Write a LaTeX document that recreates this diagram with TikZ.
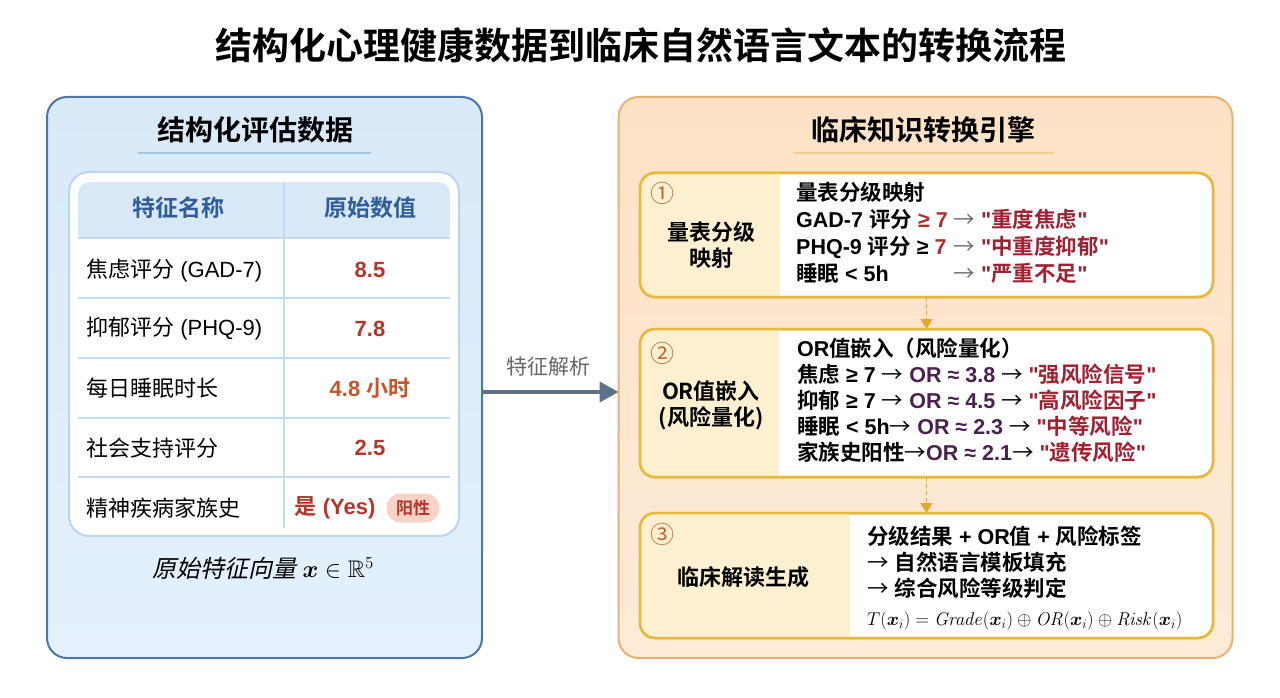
\RequirePackage{fix-cm}
\documentclass[tikz,border=0pt]{standalone}
\usepackage{amsmath,amssymb}
\usepackage[no-math]{fontspec}
\setmainfont{Liberation Sans}[Ligatures=TeXOff]
\newfontfamily\zhfont{Noto Sans CJK SC}[BoldFont={Noto Sans CJK SC Bold}]
\newfontfamily\zhitfont{Noto Sans CJK SC}[FakeSlant=0.22]
\newcommand\zh[1]{{\zhfont #1}}
\newcommand\ra{{\zhfont\mdseries →}}
\usetikzlibrary{arrows.meta,calc}
\definecolor{lptop}{HTML}{D8E9F8}
\definecolor{lpbot}{HTML}{E4F1FC}
\definecolor{lpborder}{HTML}{4A78A8}
\definecolor{hdrfill}{HTML}{D8E8F6}
\definecolor{hdrtext}{HTML}{2F5E99}
\definecolor{gridc}{HTML}{C3DBF0}
\definecolor{cardb}{HTML}{BCD6EE}
\definecolor{lline}{HTML}{A7C6E6}
\definecolor{valred}{HTML}{B4352A}
\definecolor{valorange}{HTML}{C4562A}
\definecolor{pillfill}{HTML}{F6D3C6}
\definecolor{rptop}{HTML}{FDE2C6}
\definecolor{rpbot}{HTML}{FDEBD8}
\definecolor{rpborder}{HTML}{EAB272}
\definecolor{rline}{HTML}{F3CF86}
\definecolor{boxb}{HTML}{E8B83C}
\definecolor{boxl}{HTML}{FDF0D0}
\definecolor{numc}{HTML}{C8652B}
\definecolor{redq}{HTML}{9E2232}
\definecolor{redv}{HTML}{B22A2A}
\definecolor{purp}{HTML}{4B2150}
\definecolor{arrgray}{HTML}{707070}
\definecolor{arrowc}{HTML}{5E7287}
\definecolor{labgray}{HTML}{666666}
\definecolor{dashc}{HTML}{E2A92E}
\begin{document}
\begin{tikzpicture}[x=1pt,y=-1pt,
  panel/.style={rounded corners=20pt, line width=2pt, inner sep=0pt, outer sep=0pt, minimum width=#1},
  stage/.style={draw=boxb, line width=2.5pt, fill=white, rounded corners=15pt, inner sep=0pt, outer sep=0pt, minimum width=573pt},
  ptitle/.style={font=\fontsize{28}{32}\selectfont\bfseries\zhfont},
  rowtext/.style={anchor=west, inner sep=0pt, font=\fontsize{22}{26}\selectfont},
  rowval/.style={inner sep=0pt, text=valred, font=\fontsize{22}{26}\selectfont\bfseries},
  num/.style={text=numc, inner sep=0pt, font=\fontsize{24}{26}\selectfont\zhfont},
  slabel/.style={align=center, inner sep=0pt, font=\fontsize{22}{26}\selectfont\bfseries\zhfont},
  stext/.style={anchor=west, inner sep=0pt},
  dasharr/.style={draw=dashc, line width=1.6pt, dash pattern=on 4pt off 3pt, -{Triangle[length=10pt,width=12pt]}, fill=dashc},
]
\useasboundingbox (0,0) rectangle (1280,698);
\fill[white] (0,0) rectangle (1280,698);

% title
\node[font=\fontsize{37}{44}\selectfont\bfseries\zhfont, inner sep=0pt] (title) at (641,45) {结构化心理健康数据到临床自然语言文本的转换流程};

% ---------- left panel ----------
\node[panel=435pt, minimum height=561pt, draw=lpborder, top color=lptop, bottom color=lpbot] (lp) at (264.5,377.5) {};
\node[ptitle] (lt) at (255,130) {结构化评估数据};
\draw[lline, line width=1.5pt] (138,153) -- (371,153);

\node[draw=cardb, line width=2pt, fill=white, rounded corners=20pt, inner sep=0pt, minimum width=390pt, minimum height=364pt] (card) at (264,354) {};
\fill[hdrfill, rounded corners=12pt] (78,182) rectangle (450,238);
\fill[hdrfill] (78,215) rectangle (450,238);
\draw[gridc, line width=1.2pt] (284,182) -- (284,528);
\foreach \yy in {238,298,358,418,477} \draw[gridc, line width=1.2pt] (78,\yy) -- (450,\yy);

\node[text=hdrtext, inner sep=0pt, font=\fontsize{23}{26}\selectfont\bfseries\zhfont] (h1) at (178,208) {特征名称};
\node[text=hdrtext, inner sep=0pt, font=\fontsize{23}{26}\selectfont\bfseries\zhfont] (h2) at (370,208) {原始数值};

\node[rowtext] (r1) at (86,270) {\zh{焦虑评分} (GAD-7)};
\node[rowtext] (r2) at (86,329) {\zh{抑郁评分} (PHQ-9)};
\node[rowtext] (r3) at (86,388) {\zh{每日睡眠时长}};
\node[rowtext] (r4) at (86,448) {\zh{社会支持评分}};
\node[rowtext] (r5) at (86,508) {\zh{精神疾病家族史}};

\node[rowval] (v1) at (370,270) {8.5};
\node[rowval] (v2) at (370,329) {7.8};
\node[rowval, text=valorange] (v3) at (370,388) {4.8 \zh{小时}};
\node[rowval] (v4) at (370,448) {2.5};
\node[rowval] (v5) at (335,508) {\zh{是} (Yes)};
\node[fill=pillfill, rounded corners=14pt, minimum width=53pt, minimum height=29pt, inner sep=0pt, text=valred, font=\fontsize{17}{20}\selectfont\bfseries\zhfont] (pill) at (413,508) {阳性};

\node[inner sep=0pt, font=\fontsize{24}{28}\selectfont] (cap) at (263,568) {{\zhitfont 原始特征向量} $\boldsymbol{x}\in\mathbb{R}^5$};

% ---------- right panel ----------
\node[panel=614pt, minimum height=561pt, draw=rpborder, top color=rptop, bottom color=rpbot] (rp) at (925.5,377.5) {};
\node[ptitle] (rt) at (923,130) {临床知识转换引擎};
\draw[rline, line width=1.5pt] (793,153) -- (1054,153);

% main arrow
\draw[arrowc, line width=4pt, -{Triangle[length=19pt,width=20pt]}] ([yshift=-14.5pt]lp.east) -- ([yshift=-14.5pt]rp.west);
\node[text=labgray, inner sep=0pt, font=\fontsize{21}{24}\selectfont\zhfont] (al) at (548,367) {特征解析};

% stage 1
\node[stage, minimum height=124pt] (b1) at (926.5,235) {};
\begin{scope}
  \clip[rounded corners=15pt] (b1.south west) rectangle (b1.north east);
  \fill[boxl] (b1.north west) rectangle (780,297);
\end{scope}
\draw[boxb, line width=2.5pt, rounded corners=15pt] (b1.south west) rectangle (b1.north east);
\node[num] (n1) at (662,193) {①};
\node[slabel] (l1) at (711,245) {量表分级\\映射};
\node[stext, font=\fontsize{21.5}{27}\selectfont\bfseries] (t1) at (796,236) {%
\begin{tabular}{@{}l@{\ }l@{}}
\multicolumn{2}{@{}l@{}}{\zh{量表分级映射}}\\
GAD-7 \zh{评分} \textcolor{redv}{≥ 7} & \textcolor{arrgray}{\ra} \textcolor{redq}{"\zh{重度焦虑}"}\\
PHQ-9 \zh{评分} ≥ \textcolor{redv}{7} & \textcolor{arrgray}{\ra} \textcolor{redq}{"\zh{中重度抑郁}"}\\
\zh{睡眠} < 5h & \textcolor{arrgray}{\ra} \textcolor{redq}{"\zh{严重不足}"}
\end{tabular}};

% stage 2
\node[stage, minimum height=148pt] (b2) at (926.5,403) {};
\begin{scope}
  \clip[rounded corners=15pt] (b2.south west) rectangle (b2.north east);
  \fill[boxl] (b2.north west) rectangle (779,477);
\end{scope}
\draw[boxb, line width=2.5pt, rounded corners=15pt] (b2.south west) rectangle (b2.north east);
\node[num] (n2) at (662,353) {②};
\node[slabel] (l2) at (711,405) {OR\zh{值嵌入}\\(\zh{风险量化})};
\node[stext, font=\fontsize{21.5}{25.5}\selectfont\bfseries] (t2) at (797,403) {%
\begin{tabular}{@{}l@{}}
OR\zh{值嵌入（风险量化）}\\
\zh{焦虑} ≥ 7 \ra{} \textcolor{purp}{OR ≈ 3.8} \ra{} \textcolor{redq}{"\zh{强风险信号}"}\\
\zh{抑郁} ≥ 7 \ra{} \textcolor{purp}{OR ≈ 4.5} \ra{} \textcolor{redq}{"\zh{高风险因子}"}\\
\zh{睡眠} < 5h\ra{} \textcolor{purp}{OR ≈ 2.3} \ra{} \textcolor{redq}{"\zh{中等风险}"}\\
\zh{家族史阳性}\ra\textcolor{purp}{OR ≈ 2.1}\ra{} \textcolor{redq}{"\zh{遗传风险}"}
\end{tabular}};

% stage 3
\node[stage, minimum height=125pt] (b3) at (926.5,575.5) {};
\begin{scope}
  \clip[rounded corners=15pt] (b3.south west) rectangle (b3.north east);
  \fill[boxl] (b3.north west) rectangle (850,638);
\end{scope}
\draw[boxb, line width=2.5pt, rounded corners=15pt] (b3.south west) rectangle (b3.north east);
\node[num] (n3) at (662,534) {③};
\node[slabel] (l3) at (743,577) {临床解读生成};
\node[stext, font=\fontsize{21.5}{25}\selectfont\bfseries] (t3) at (867,565) {%
\begin{tabular}{@{}l@{}}
\zh{分级结果} + OR\zh{值} + \zh{风险标签}\\
\ra{} \zh{自然语言模板填充}\\
\ra{} \zh{综合风险等级判定}
\end{tabular}};
\node[stext, font=\fontsize{18.5}{22}\selectfont] (f3) at (867,621) {$T(\boldsymbol{x}_i) = \mathit{Grade}(\boldsymbol{x}_i) \oplus \mathit{OR}(\boldsymbol{x}_i) \oplus \mathit{Risk}(\boldsymbol{x}_i)$};

% stage connectors
\draw[dasharr] (b1.south) -- (b2.north);
\draw[dasharr] (b2.south) -- (b3.north);
\end{tikzpicture}
\end{document}
